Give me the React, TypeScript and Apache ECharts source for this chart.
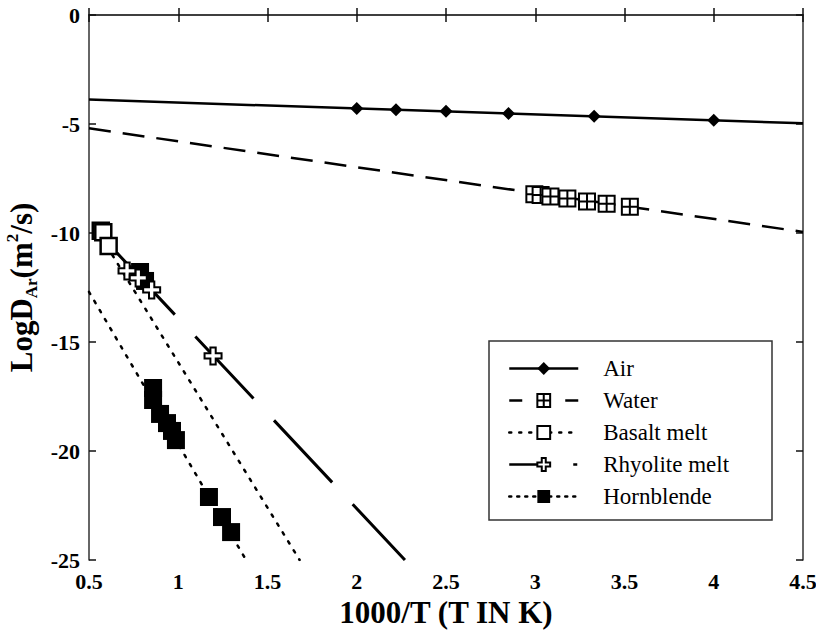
import React, { useEffect, useRef } from "react";
import * as echarts from "echarts";

// ---- data ----
const xTicks = [0.5, 1, 1.5, 2, 2.5, 3, 3.5, 4, 4.5];
const yTicks = [0, -5, -10, -15, -20, -25];

const airX = [2.0, 2.22, 2.5, 2.85, 3.33, 4.0];
const airY = [-4.29, -4.35, -4.42, -4.52, -4.65, -4.83];
const airFitX = [0.5, 4.5];
const airFitY = [-3.88, -4.97];

const waterX = [2.995, 3.03, 3.085, 3.18, 3.29, 3.4, 3.53];
const waterY = [-8.22, -8.26, -8.32, -8.42, -8.55, -8.66, -8.8];
const waterFitX = [0.5, 4.5];
const waterFitY = [-5.2, -9.95];

const basaltX = [0.566, 0.58, 0.61];
const basaltY = [-9.9, -9.97, -10.6];
const basaltFitX = [0.6, 1.68];
const basaltFitY = [-10.6, -25];

const rhyoliteX = [0.713, 0.776, 0.851, 1.195];
const rhyoliteY = [-11.74, -12.06, -12.61, -15.64];
const rhyoliteFitX = [0.655, 2.27];
const rhyoliteFitY = [-10.9, -25];

const hornX = [0.786, 0.814, 0.859, 0.859, 0.898, 0.937, 0.965, 0.987, 1.172, 1.245, 1.296];
const hornY = [-11.79, -12.2, -17.11, -17.66, -18.3, -18.72, -19.08, -19.5, -22.11, -23.03, -23.72];
const hornFitX = [0.5, 1.38];
const hornFitY = [-12.7, -25];

const names = ["Air", "Water", "Basalt melt", "Rhyolite melt", "Hornblende"];

const pairs = (xs: number[], ys: number[]) => xs.map((x, i) => [x, ys[i]]);

const FONT = '"Liberation Serif", "Times New Roman", serif';
const waterSym = "path://M0,0H16V16H0Z M8,0V16 M0,8H16";
const crossSym = "path://M5.5,0H10.5V5.5H16V10.5H10.5V16H5.5V10.5H0V5.5H5.5Z";

export default function App() {
  const ref = useRef<HTMLDivElement>(null);
  useEffect(() => {
    if (!ref.current) return;
    const chart = echarts.init(ref.current, null, { renderer: "svg" });
    const black = "#000";
    const fitLine = (name: string, xs: number[], ys: number[], lineStyle: any, symbol: string, symbolSize: number, itemStyle: any, z: number) => ({
      name,
      type: "line",
      data: pairs(xs, ys),
      showSymbol: false,
      symbol,
      symbolSize,
      itemStyle,
      lineStyle: { color: black, ...lineStyle },
      z,
      silent: true,
    });
    const pts = (name: string, xs: number[], ys: number[], symbol: string, symbolSize: number, itemStyle: any, z: number) => ({
      name,
      type: "scatter",
      data: pairs(xs, ys),
      symbol,
      symbolSize,
      itemStyle,
      z,
      silent: true,
    });
    const airStyle = { color: black, opacity: 1 };
    const waterStyle = { color: "#fff", borderColor: black, borderWidth: 2, opacity: 1 };
    const basaltStyle = { color: "#fff", borderColor: black, borderWidth: 2.5, opacity: 1 };
    const rhyStyle = { color: "#fff", borderColor: black, borderWidth: 2, opacity: 1 };
    const hornStyle = { color: black, opacity: 1 };

    const axisCommon = {
      axisLine: { show: true, lineStyle: { color: "#333", width: 1.5 } },
      axisTick: { show: true, inside: true, length: 7, lineStyle: { color: "#111", width: 1.5 } },
      splitLine: { show: false },
    };

    chart.setOption({
      animation: false,
      backgroundColor: "#fff",
      grid: { left: 89, right: 13, top: 15, bottom: 73, outerBoundsMode: "none", containLabel: false },
      xAxis: [
        {
          type: "value",
          min: xTicks[0],
          max: xTicks[xTicks.length - 1],
          interval: 0.5,
          position: "bottom",
          ...axisCommon,
          axisLabel: { color: black, fontFamily: FONT, fontWeight: "bold", fontSize: 22, margin: 10 },
          name: "1000/T (T IN K)",
          nameLocation: "middle",
          nameGap: 14,
          nameTextStyle: { color: black, fontFamily: FONT, fontWeight: "bold", fontSize: 31 },
        },
        {
          type: "value",
          min: xTicks[0],
          max: xTicks[xTicks.length - 1],
          interval: 0.5,
          position: "top",
          ...axisCommon,
          axisLabel: { show: false },
        },
      ],
      yAxis: [
        {
          type: "value",
          min: yTicks[yTicks.length - 1],
          max: yTicks[0],
          interval: 5,
          position: "left",
          ...axisCommon,
          axisLabel: { color: black, fontFamily: FONT, fontWeight: "bold", fontSize: 22, margin: 9 },
          name: "{a|LogD}{b|Ar}{a|(m}{c|2}{a|/s)}",
          nameLocation: "middle",
          nameRotate: 90,
          nameGap: 49,
          nameTextStyle: {
            color: black,
            fontFamily: FONT,
            fontWeight: "bold",
            rich: {
              a: { fontFamily: FONT, fontWeight: "bold", fontSize: 31, color: black, lineHeight: 36 },
              b: { fontFamily: FONT, fontWeight: "bold", fontSize: 17, color: black, verticalAlign: "bottom", lineHeight: 20 },
              c: { fontFamily: FONT, fontWeight: "bold", fontSize: 17, color: black, verticalAlign: "top", lineHeight: 20 },
            },
          },
        },
        {
          type: "value",
          min: yTicks[yTicks.length - 1],
          max: yTicks[0],
          interval: 5,
          position: "right",
          ...axisCommon,
          axisLabel: { show: false },
        },
      ],
      legend: {
        show: true,
        orient: "vertical",
        left: 508,
        top: 357,
        padding: 0,
        itemWidth: 69,
        itemHeight: 16,
        itemGap: 9,
        selectedMode: false,
        textStyle: { color: black, fontFamily: FONT, fontSize: 23, padding: [0, 0, 0, 20] },
        data: [
          { name: names[0], lineStyle: { type: "solid", width: 2.5 } },
          { name: names[1], lineStyle: { type: [13, 43, 13, 20], width: 2.5 } },
          { name: names[2], lineStyle: { type: [2, 8], width: 2.5 } },
          { name: names[3], lineStyle: { type: [28, 36, 4, 10], width: 2.5 } },
          { name: names[4], lineStyle: { type: [2, 6], width: 2.5 } },
        ],
      },
      graphic: [
        {
          type: "rect",
          shape: { x: 489, y: 341, width: 283, height: 179 },
          style: { fill: "none", stroke: "#333", lineWidth: 1.5 },
          z: 100,
          silent: true,
        },
      ],
      series: [
        fitLine(names[0], airFitX, airFitY, { type: "solid", width: 2.5 }, "diamond", 13, airStyle, 2),
        fitLine(names[1], waterFitX, waterFitY, { type: [22, 12], width: 2.5 }, waterSym, 16, waterStyle, 2),
        fitLine(names[2], basaltFitX, basaltFitY, { type: [2.5, 8], width: 2.5, cap: "round" }, "rect", 16, basaltStyle, 2),
        fitLine(names[3], rhyoliteFitX, rhyoliteFitY, { type: [85, 30], width: 3 }, crossSym, 17, rhyStyle, 2),
        fitLine(names[4], hornFitX, hornFitY, { type: [2.5, 8], width: 2.5, cap: "round" }, "rect", 18, hornStyle, 2),
        pts("Air points", airX, airY, "diamond", 13, airStyle, 5),
        pts("Water points", waterX, waterY, waterSym, 16, waterStyle, 5),
        pts("Hornblende points", hornX, hornY, "rect", 18, hornStyle, 5),
        pts("Rhyolite points", rhyoliteX, rhyoliteY, crossSym, 17, rhyStyle, 6),
        pts("Basalt points", basaltX, basaltY, "rect", 16, basaltStyle, 7),
      ],
    });
    return () => chart.dispose();
  }, []);
  return <div ref={ref} style={{ position: "absolute", left: 0, top: 0, width: 816, height: 633 }} />;
}
